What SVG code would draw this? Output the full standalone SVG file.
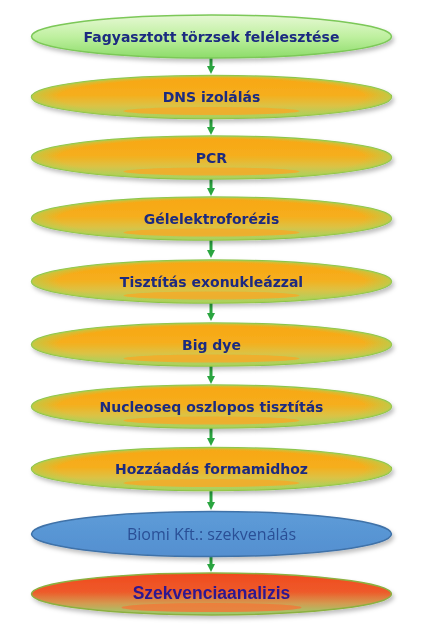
<svg xmlns="http://www.w3.org/2000/svg" width="426" height="641" viewBox="0 0 426 641">
<defs>
<linearGradient id="gOrange" x1="0" y1="0" x2="0" y2="1">
<stop offset="0" stop-color="#f8a614"/>
<stop offset="0.45" stop-color="#f6ae1c"/>
<stop offset="0.7" stop-color="#dcc244"/>
<stop offset="1" stop-color="#9fd46a"/>
</linearGradient>
<radialGradient id="gOrangeEdge" cx="0.5" cy="0.5" r="0.5">
<stop offset="0.85" stop-color="#b4d050" stop-opacity="0"/>
<stop offset="1" stop-color="#b4d050" stop-opacity="0.75"/>
</radialGradient>
<linearGradient id="gGreen" x1="0" y1="0" x2="0" y2="1">
<stop offset="0" stop-color="#e6f8d4"/>
<stop offset="0.5" stop-color="#bff0a0"/>
<stop offset="1" stop-color="#8ddc6a"/>
</linearGradient>
<linearGradient id="gRed" x1="0" y1="0" x2="0" y2="1">
<stop offset="0" stop-color="#f04a1e"/>
<stop offset="0.45" stop-color="#ee5a2a"/>
<stop offset="0.72" stop-color="#d49a50"/>
<stop offset="1" stop-color="#98d070"/>
</linearGradient>
<linearGradient id="gBlue" x1="0" y1="0" x2="0" y2="1">
<stop offset="0" stop-color="#5d9cd8"/>
<stop offset="1" stop-color="#548fd0"/>
</linearGradient>
<marker id="arr" markerWidth="8" markerHeight="8" refX="4" refY="4" orient="auto" markerUnits="userSpaceOnUse">
<path d="M0,0 L8,4 L0,8 z" fill="#2aa540"/>
</marker>
<filter id="sh" x="-10%" y="-30%" width="120%" height="170%">
<feDropShadow dx="2" dy="3" stdDeviation="2" flood-color="#000" flood-opacity="0.25"/>
</filter>
</defs>
<style>
.t{font-family:"DejaVu Sans","Liberation Sans",sans-serif;font-weight:bold;font-size:14px;fill:#1b2a80;text-anchor:middle}
.o{fill:url(#gOrange);stroke:#8cc44a;stroke-width:1.5}
.edge{fill:url(#gOrangeEdge)}
.hl{fill:#f5aa28;opacity:0.85}
.c{stroke:#2aa540;stroke-width:3;fill:none}
</style>
<g id="connectors">
<line class="c" x1="211" y1="58" x2="211" y2="70" marker-end="url(#arr)"/>
<line class="c" x1="211" y1="118" x2="211" y2="131" marker-end="url(#arr)"/>
<line class="c" x1="211" y1="179" x2="211" y2="192" marker-end="url(#arr)"/>
<line class="c" x1="211" y1="240" x2="211" y2="254" marker-end="url(#arr)"/>
<line class="c" x1="211" y1="303" x2="211" y2="317" marker-end="url(#arr)"/>
<line class="c" x1="211" y1="366" x2="211" y2="380" marker-end="url(#arr)"/>
<line class="c" x1="211" y1="428" x2="211" y2="442" marker-end="url(#arr)"/>
<line class="c" x1="211" y1="490" x2="211" y2="506" marker-end="url(#arr)"/>
<line class="c" x1="211" y1="556" x2="211" y2="568" marker-end="url(#arr)"/>
</g>
<g id="n1" filter="url(#sh)">
<ellipse cx="211.5" cy="36.5" rx="180" ry="21.5" fill="url(#gGreen)" stroke="#7cc858" stroke-width="1.5"/>
<text class="t" x="211.5" y="41.5">Fagyasztott törzsek felélesztése</text>
</g>
<g id="n2" filter="url(#sh)">
<ellipse class="o" cx="211.5" cy="97" rx="180" ry="21.5"/>
<ellipse class="edge" cx="211.5" cy="97" rx="180" ry="21.5"/>
<ellipse class="hl" cx="211.5" cy="111" rx="88" ry="4"/>
<text class="t" x="211.5" y="102">DNS izolálás</text>
</g>
<g id="n3" filter="url(#sh)">
<ellipse class="o" cx="211.5" cy="157.5" rx="180" ry="21.5"/>
<ellipse class="edge" cx="211.5" cy="157.5" rx="180" ry="21.5"/>
<ellipse class="hl" cx="211.5" cy="171.5" rx="88" ry="4"/>
<text class="t" x="211.5" y="162.5">PCR</text>
</g>
<g id="n4" filter="url(#sh)">
<ellipse class="o" cx="211.5" cy="218.5" rx="180" ry="21.5"/>
<ellipse class="edge" cx="211.5" cy="218.5" rx="180" ry="21.5"/>
<ellipse class="hl" cx="211.5" cy="232.5" rx="88" ry="4"/>
<text class="t" x="211.5" y="223.5">Gélelektroforézis</text>
</g>
<g id="n5" filter="url(#sh)">
<ellipse class="o" cx="211.5" cy="281.5" rx="180" ry="21.5"/>
<ellipse class="edge" cx="211.5" cy="281.5" rx="180" ry="21.5"/>
<ellipse class="hl" cx="211.5" cy="295.5" rx="88" ry="4"/>
<text class="t" x="211.5" y="286.5">Tisztítás exonukleázzal</text>
</g>
<g id="n6" filter="url(#sh)">
<ellipse class="o" cx="211.5" cy="344.5" rx="180" ry="21.5"/>
<ellipse class="edge" cx="211.5" cy="344.5" rx="180" ry="21.5"/>
<ellipse class="hl" cx="211.5" cy="358.5" rx="88" ry="4"/>
<text class="t" x="211.5" y="349.5">Big dye</text>
</g>
<g id="n7" filter="url(#sh)">
<ellipse class="o" cx="211.5" cy="406.5" rx="180" ry="21.5"/>
<ellipse class="edge" cx="211.5" cy="406.5" rx="180" ry="21.5"/>
<ellipse class="hl" cx="211.5" cy="420.5" rx="88" ry="4"/>
<text class="t" x="211.5" y="411.5">Nucleoseq oszlopos tisztítás</text>
</g>
<g id="n8" filter="url(#sh)">
<ellipse class="o" cx="211.5" cy="469" rx="180" ry="21.5"/>
<ellipse class="edge" cx="211.5" cy="469" rx="180" ry="21.5"/>
<ellipse class="hl" cx="211.5" cy="483" rx="88" ry="4"/>
<text class="t" x="211.5" y="474">Hozzáadás formamidhoz</text>
</g>
<g id="n9" filter="url(#sh)">
<ellipse cx="211.5" cy="534" rx="180" ry="22.5" fill="url(#gBlue)" stroke="#3f72a8" stroke-width="1.5"/>
<text x="211.5" y="539.5" text-anchor="middle" font-family="'Open Sans','Liberation Sans',sans-serif" font-size="16" fill="#2a4f96">Biomi Kft.: szekvenálás</text>
</g>
<g id="n10" filter="url(#sh)">
<ellipse cx="211.5" cy="594" rx="180" ry="21" fill="url(#gRed)" stroke="#8cb040" stroke-width="1.5"/>
<ellipse cx="211.5" cy="607.5" rx="90" ry="4.5" fill="#f07a3a" opacity="0.85"/>
<text x="211.5" y="599" text-anchor="middle" font-family="'Liberation Sans',Arial,sans-serif" font-weight="bold" font-size="17.5" fill="#2e1690">Szekvenciaanalizis</text>
</g>
</svg>
